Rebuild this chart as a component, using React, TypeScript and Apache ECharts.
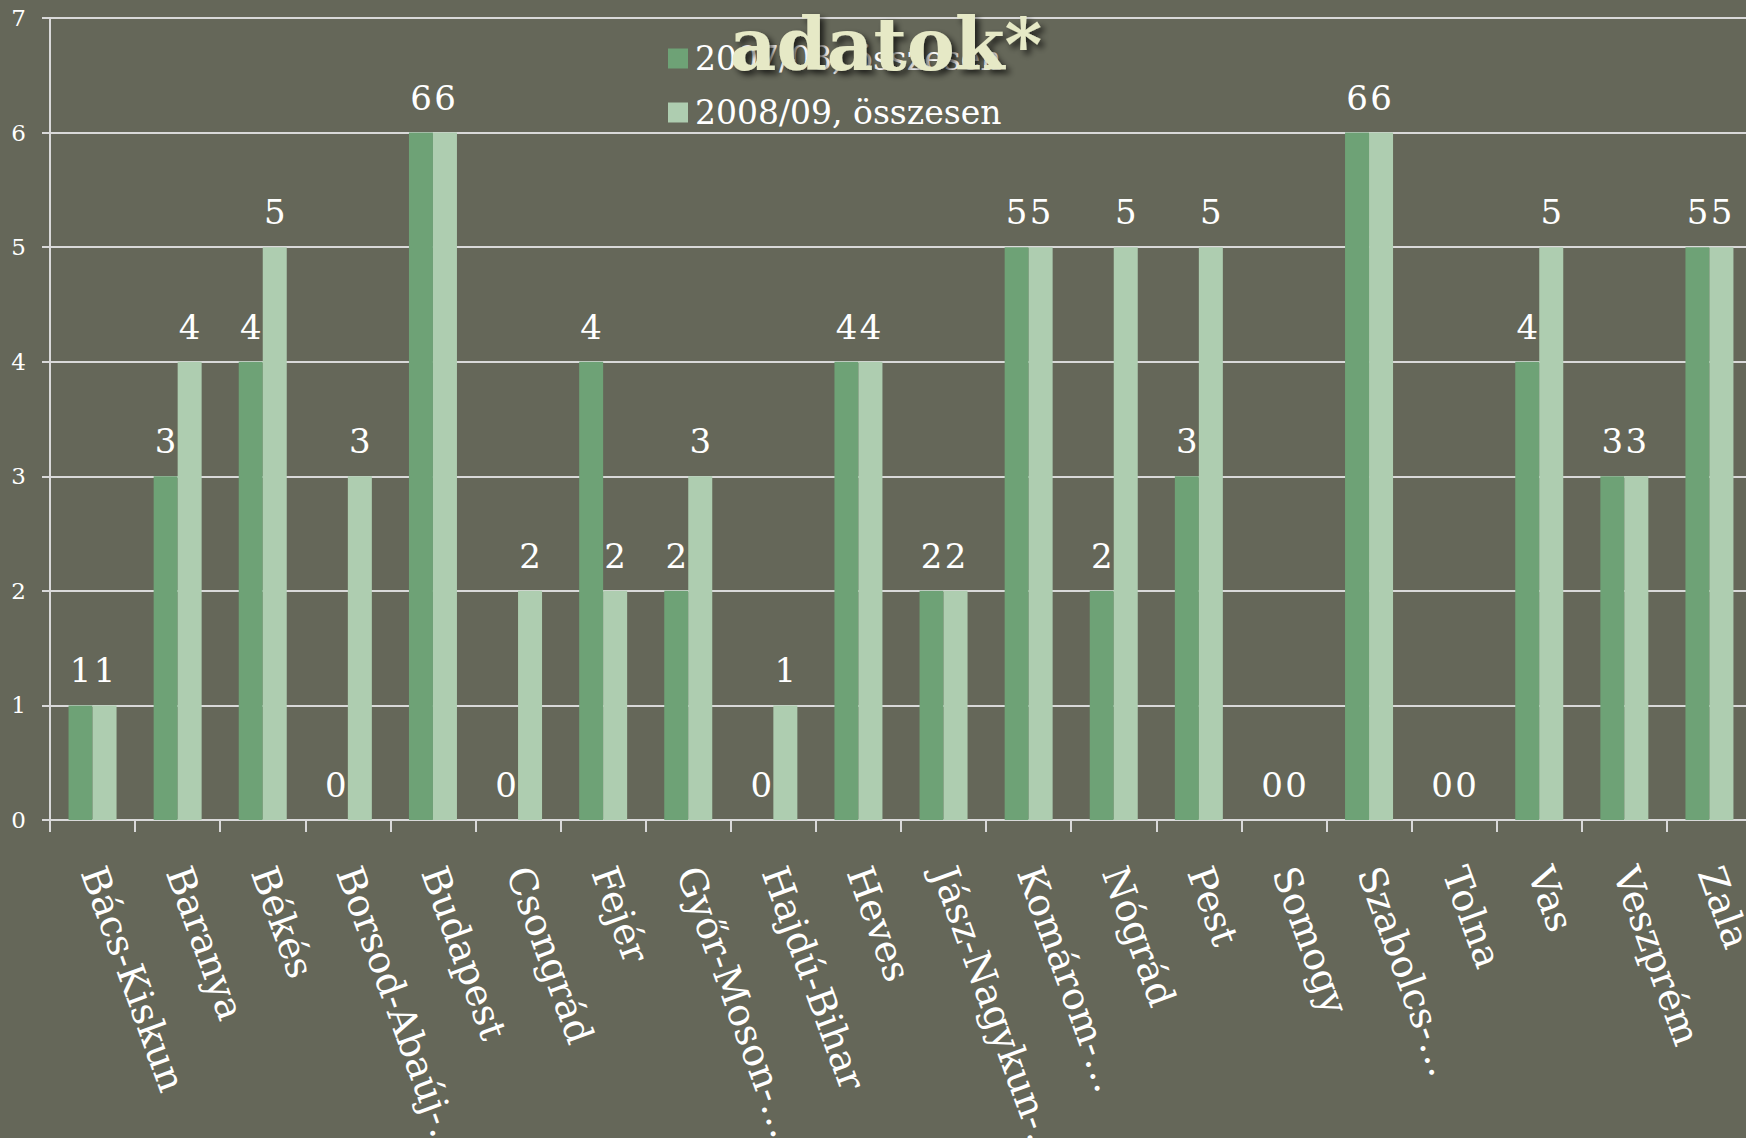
import React, { useEffect, useRef } from "react";
import * as echarts from "echarts";

const categories = [
  "Bács-Kiskun",
  "Baranya",
  "Békés",
  "Borsod-Abaúj-…",
  "Budapest",
  "Csongrád",
  "Fejér",
  "Győr-Moson-…",
  "Hajdú-Bihar",
  "Heves",
  "Jász-Nagykun-…",
  "Komárom-…",
  "Nógrád",
  "Pest",
  "Somogy",
  "Szabolcs-…",
  "Tolna",
  "Vas",
  "Veszprém",
  "Zala",
];
const seriesNames = ["2007/08, összesen", "2008/09, összesen"];
const values0708 = [1, 3, 4, 0, 6, 0, 4, 2, 0, 4, 2, 5, 2, 3, 0, 6, 0, 4, 3, 5];
const values0809 = [1, 4, 5, 3, 6, 2, 2, 3, 1, 4, 2, 5, 5, 5, 0, 6, 0, 5, 3, 5];
const yTicks = { min: 0, max: 7, interval: 1 };
const titleText = "adatok*";

const SERIF = "'DejaVu Serif', serif";

export default function App() {
  const ref = useRef<HTMLDivElement>(null);
  useEffect(() => {
    document.body.style.margin = "0";
    const chart = echarts.init(ref.current!, undefined, { renderer: "svg" });
    const labelStyle = {
      show: true,
      position: "top" as const,
      distance: 18,
      color: "#ffffff",
      fontFamily: SERIF,
      fontSize: 34,
    };
    chart.setOption({
      animation: false,
      backgroundColor: "#656759",
      textStyle: { fontFamily: SERIF },
      grid: {
        left: 50,
        top: 18,
        width: 1702,
        height: 802,
        containLabel: false,
        outerBoundsMode: "none",
      },
      legend: {
        orient: "vertical",
        left: 663,
        top: 37,
        itemWidth: 20,
        itemHeight: 20,
        itemGap: 21,
        icon: "rect",
        textStyle: { color: "#ffffff", fontSize: 33, fontFamily: SERIF, lineHeight: 32, padding: [0, 0, 0, 2] },
        data: seriesNames,
      },
      xAxis: {
        type: "category",
        data: categories,
        axisLine: { lineStyle: { color: "#d9d9d9", width: 2 } },
        axisTick: { show: true, length: 12, lineStyle: { color: "#d9d9d9", width: 2 } },
        axisLabel: {
          interval: 0,
          rotate: -70,
          margin: 48,
          color: "#ffffff",
          fontFamily: SERIF,
          fontSize: 38,
        },
      },
      yAxis: {
        type: "value",
        min: yTicks.min,
        max: yTicks.max,
        interval: yTicks.interval,
        axisLine: { show: true, lineStyle: { color: "#d9d9d9", width: 2 } },
        axisTick: { show: true, length: 8, lineStyle: { color: "#d9d9d9", width: 2 } },
        splitLine: { lineStyle: { color: "#d9d9d9", width: 2 } },
        axisLabel: { color: "#ffffff", fontFamily: SERIF, fontSize: 23, margin: 24 },
      },
      series: [
        {
          name: seriesNames[0],
          type: "bar",
          data: values0708,
          barWidth: 24,
          barGap: "0%",
          itemStyle: { color: "#6ea276" },
          label: labelStyle,
        },
        {
          name: seriesNames[1],
          type: "bar",
          data: values0809,
          barWidth: 24,
          barGap: "0%",
          itemStyle: { color: "#aecdb0" },
          label: labelStyle,
        },
      ],
      graphic: [
        {
          type: "text",
          z: 100,
          x: 886,
          y: 80,
          style: {
            text: titleText,
            fontFamily: SERIF,
            fontWeight: "bold",
            fontSize: 72,
            fill: "#e6e9c6",
            textAlign: "center",
            textVerticalAlign: "bottom",
            textShadowColor: "rgba(0,0,0,0.7)",
            textShadowBlur: 6,
            textShadowOffsetX: 4,
            textShadowOffsetY: 4,
          },
        },
      ],
    });
    return () => chart.dispose();
  }, []);
  return (
    <div
      ref={ref}
      style={{ position: "fixed", left: 0, top: 0, width: 1746, height: 1138 }}
    />
  );
}
